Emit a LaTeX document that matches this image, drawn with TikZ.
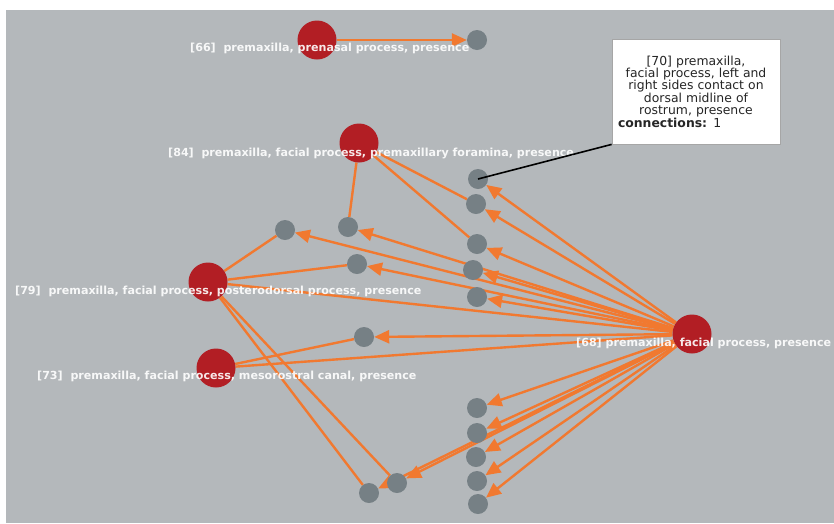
\documentclass[tikz,border=0pt]{standalone}
\usepackage{fontspec}
\setsansfont{DejaVu Sans}
\usetikzlibrary{arrows.meta,backgrounds}
\definecolor{canvasgray}{RGB}{180,184,187}
\definecolor{hubred}{RGB}{178,30,36}
\definecolor{leafgray}{RGB}{118,128,133}
\definecolor{edgeorange}{RGB}{241,121,48}
\begin{document}
\begin{tikzpicture}[x = 1pt, y = -1pt,
    hub/.style = {circle, fill = hubred, minimum size = 39pt, inner sep = 0pt},
    leaf/.style = {circle, fill = leafgray, minimum size = 20pt, inner sep = 0pt},
    wire/.style = {draw = edgeorange, line width = 2.4pt},
    feed/.style = {wire, -{Triangle[length = 15pt, width = 13pt]}},
    lab/.style = {anchor = west, inner sep = 0pt, text = white, text opacity = .9,
                  font = \sffamily\bfseries\fontsize{11.1}{13}\selectfont}]
  \useasboundingbox (0,0) rectangle (834,523);

  \node [hub] (n66) at (317,40) {};
  \node [hub] (n84) at (359,143) {};
  \node [hub] (n79) at (208,282) {};
  \node [hub] (n73) at (216,368) {};
  \node [hub] (n68) at (692,334) {};

  \node [leaf] (t66) at (477,40) {};
  \node [leaf] (t70) at (478,179) {};
  \node [leaf] (f1) at (476,204) {};
  \node [leaf] (f2) at (477,244) {};
  \node [leaf] (f3) at (473,270) {};
  \node [leaf] (f4) at (477,297) {};
  \node [leaf] (l1) at (285,230) {};
  \node [leaf] (l2) at (348,227) {};
  \node [leaf] (l3) at (357,264) {};
  \node [leaf] (l4) at (364,337) {};
  \node [leaf] (b1) at (477,408) {};
  \node [leaf] (b2) at (477,433) {};
  \node [leaf] (b3) at (476,457) {};
  \node [leaf] (b4) at (477,481) {};
  \node [leaf] (b5) at (478,504) {};
  \node [leaf] (d1) at (397,483) {};
  \node [leaf] (d2) at (369,493) {};

  \begin{scope}[on background layer]
    \fill [canvasgray] (6,10) rectangle (834,523);
    \draw [feed] (n66) -- (t66);
    \draw [wire] (n84) -- (l2);
    \draw [wire] (n84) -- (f1);
    \draw [wire] (n84) -- (f2);
    \draw [wire] (n79) -- (l1);
    \draw [wire] (n79) -- (l3);
    \draw [wire] (n79) -- (d1);
    \draw [wire] (n79) -- (d2);
    \draw [wire] (n73) -- (l4);
    \draw [wire] (n68) -- (n79);
    \draw [wire] (n68) -- (n73);
    \draw [feed] (n68) -- (t70);
    \draw [feed] (n68) -- (f1);
    \draw [feed] (n68) -- (f2);
    \draw [feed] (n68) -- (f3);
    \draw [feed] (n68) -- (f4);
    \draw [feed] (n68) -- (l1);
    \draw [feed] (n68) -- (l2);
    \draw [feed] (n68) -- (l3);
    \draw [feed] (n68) -- (l4);
    \draw [feed] (n68) -- (b1);
    \draw [feed] (n68) -- (b2);
    \draw [feed] (n68) -- (b3);
    \draw [feed] (n68) -- (b4);
    \draw [feed] (n68) -- (b5);
    \draw [feed] (n68) -- (d1);
    \draw [feed] (n68) -- (d2);
  \end{scope}

  \node [lab] (lab66) at (190,48) {[66]~ premaxilla, prenasal process, presence};
  \node [lab] (lab84) at (168,153) {[84]~ premaxilla, facial process, premaxillary foramina, presence};
  \node [lab] (lab79) at (15,291) {[79]~ premaxilla, facial process, posterodorsal process, presence};
  \node [lab] (lab73) at (37,376) {[73]~ premaxilla, facial process, mesorostral canal, presence};
  \node [lab] (lab68) at (576,343) {[68] premaxilla, facial process, presence};

  \node [draw = black!35, fill = white, line width = .8pt,
         minimum width = 168pt, minimum height = 105pt,
         text width = 156pt, align = center, text = black!85,
         font = \sffamily\fontsize{12.4}{12.4}\selectfont] (box70) at (696,91.5)
    {[70] premaxilla,\\ facial process, left and\\ right sides contact on\\
     dorsal midline of\\ rostrum, presence\\
     \makebox[156pt][l]{\textbf{connections:} 1}};
  \draw [line width = 1.6pt] (box70.south west) -- (t70.center);
\end{tikzpicture}
\end{document}
